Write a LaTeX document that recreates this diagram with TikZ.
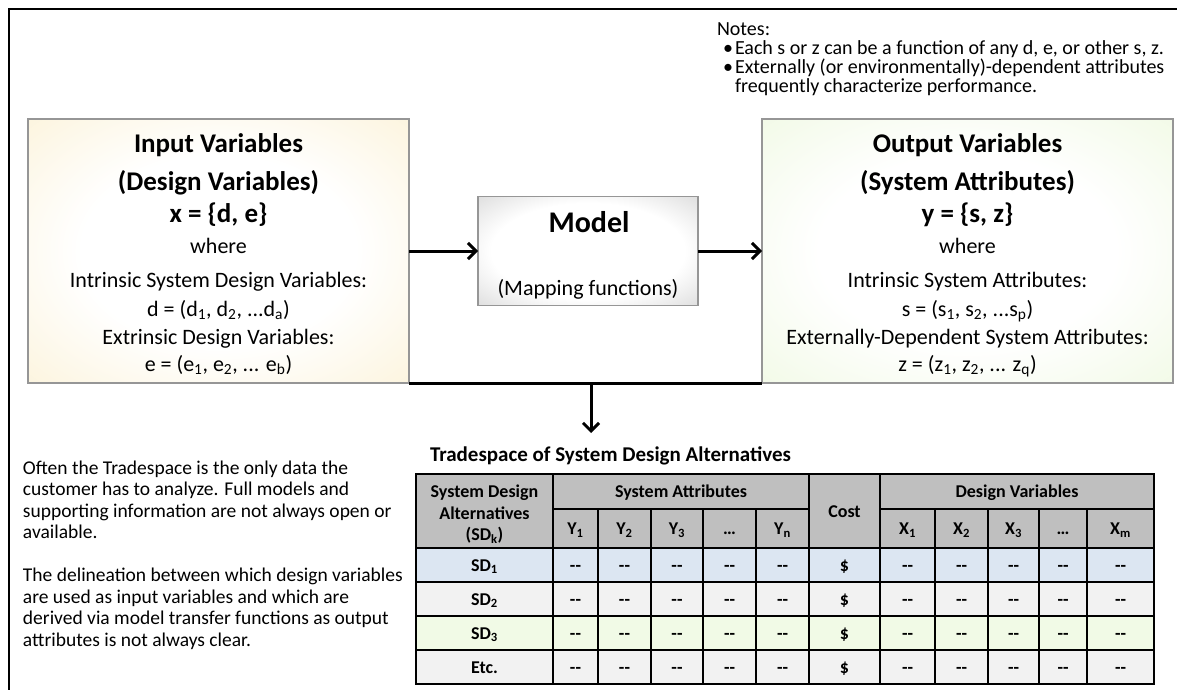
\documentclass[tikz,border=0pt]{standalone}
\usepackage{fontspec}
\setmainfont{Carlito}
\usetikzlibrary{arrows.meta}

\definecolor{inyellow}{RGB}{250,236,196}
\definecolor{outgreen}{RGB}{232,246,212}
\definecolor{modelgray}{RGB}{188,188,188}
\definecolor{boxline}{RGB}{150,150,150}
\definecolor{headgray}{RGB}{191,191,191}
\definecolor{rowblue}{RGB}{220,230,242}
\definecolor{rowgray}{RGB}{242,242,242}
\definecolor{rowgreen}{RGB}{241,250,230}

\pgfdeclareradialshading{inglow}{\pgfpoint{0bp}{0bp}}{color(0bp)=(white); color(18bp)=(white); color(50bp)=(inyellow); color(75bp)=(inyellow)}
\pgfdeclareradialshading{outglow}{\pgfpoint{0bp}{0bp}}{color(0bp)=(white); color(18bp)=(white); color(50bp)=(outgreen); color(75bp)=(outgreen)}
\pgfdeclareradialshading{modelglow}{\pgfpoint{0bp}{0bp}}{color(0bp)=(white); color(22bp)=(white); color(50bp)=(modelgray); color(75bp)=(modelgray)}

\begin{document}
\begin{tikzpicture}[x=1pt, y=-1pt, every node/.style={inner sep=0pt, outer sep=0pt},
    varbox/.style={draw=boxline, line width=1.2pt, minimum width=381pt, minimum height=264pt},
    boxtitle/.style={font=\fontsize{27}{32}\selectfont\bfseries, anchor=base},
    boxtext/.style={font=\fontsize{22}{26}\selectfont, anchor=base},
    note/.style={font=\fontsize{20}{21}\selectfont, anchor=base west},
    cell/.style={font=\fontsize{18}{21.5}\selectfont\bfseries, anchor=base},
    flow/.style={line width=3pt, -{Straight Barb[length=8pt, width=16pt]}},
    grid/.style={line width=1.4pt}]

    \useasboundingbox (0,0) rectangle (1177,690);
    \draw [line width=2.5pt] (9,690) -- (9,9) -- (1177,9);

    \node [note] (notes) at (717,36) {Notes:};
    \node [note] (bul1) at (723,55) {•};
    \node [note] (note1) at (735,55) {Each s or z can be a function of any d, e, or other s, z.};
    \node [note] (bul2) at (723,74) {•};
    \node [note] (note2) at (735,74) {Externally (or environmentally)-dependent attributes};
    \node [note] (note3) at (735,93) {frequently characterize performance.};

    \node [varbox, shading=inglow] (input) at (218.5,251) {};
    \node [boxtitle] (intitle) at (218.5,153) {Input Variables};
    \node [boxtitle] (insub) at (218.5,190) {(Design Variables)};
    \node [boxtitle] (inset) at (218.5,222) {x = \{d, e\}};
    \node [boxtext] (inwhere) at (218.5,253) {where};
    \node [boxtext] (inintr) at (218.5,287) {Intrinsic System Design Variables:};
    \node [boxtext] (ind) at (218.5,316) {d = (d\textsubscript{1}, d\textsubscript{2}, ...d\textsubscript{a})};
    \node [boxtext] (inextr) at (218.5,344) {Extrinsic Design Variables:};
    \node [boxtext] (ine) at (218.5,371) {e = (e\textsubscript{1}, e\textsubscript{2}, ... e\textsubscript{b})};

    \node [draw=boxline, line width=1.2pt, shading=modelglow, minimum width=220pt, minimum height=109pt] (model) at (588,251) {};
    \node [font=\fontsize{30}{36}\selectfont\bfseries, anchor=base] (modeltitle) at (589,232) {Model};
    \node [boxtext] (modelsub) at (588,295) {(Mapping functions)};

    \node [varbox, minimum width=411pt, shading=outglow] (output) at (967.5,251) {};
    \node [boxtitle] (outtitle) at (967.5,153) {Output Variables};
    \node [boxtitle] (outsub) at (967.5,190) {(System Attributes)};
    \node [boxtitle] (outset) at (967.5,222) {y = \{s, z\}};
    \node [boxtext] (outwhere) at (967.5,253) {where};
    \node [boxtext] (outintr) at (967.5,287) {Intrinsic System Attributes:};
    \node [boxtext] (outs) at (967.5,316) {s = (s\textsubscript{1}, s\textsubscript{2}, ...s\textsubscript{p})};
    \node [boxtext] (outextr) at (967.5,344) {Externally-Dependent System Attributes:};
    \node [boxtext] (outz) at (967.5,371) {z = (z\textsubscript{1}, z\textsubscript{2}, ... z\textsubscript{q})};

    \draw [flow] (input) -- (model);
    \draw [flow] (model) -- (output);
    \draw [line width=3pt] (input.south east) -- (output.south west);
    \coordinate (tap) at (591,383);
    \coordinate (drop) at (591,433);
    \draw [flow] (tap) -- (drop);

    \node [font=\fontsize{19.5}{21.5}\selectfont, align=left, anchor=north west] (remark) at (23,460.5)
      {Often the Tradespace is the only data the\\
       customer has to analyze. Full models and\\
       supporting information are not always open or\\
       available.\\
       ~\\
       The delineation between which design variables\\
       are used as input variables and which are\\
       derived via model transfer functions as output\\
       attributes is not always clear.};

    \node [font=\fontsize{21}{25}\selectfont\bfseries, anchor=base west] (tradespace) at (430,461) {Tradespace of System Design Alternatives};

    \fill [headgray] (416,474) rectangle (1154,548);
    \fill [rowblue] (416,548) rectangle (1154,582);
    \fill [rowgray] (416,582) rectangle (1154,616);
    \fill [rowgreen] (416,616) rectangle (1154,650);
    \fill [rowgray] (416,650) rectangle (1154,684);

    \draw [grid] (416,474) rectangle (1154,684);
    \draw [grid] (553,509) -- (809,509);
    \draw [grid] (880,509) -- (1154,509);
    \foreach \ly in {548,582,616,650}
      \draw [grid] (416,\ly) -- (1154,\ly);
    \foreach \lx in {553,809,880}
      \draw [grid] (\lx,474) -- (\lx,684);
    \foreach \lx in {598,651,703,756,935,988,1039,1087}
      \draw [grid] (\lx,509) -- (\lx,684);

    \node [cell, align=center, anchor=north] (sdhead) at (484.5,485) {System Design\\ Alternatives\\ (SD\textsubscript{k})};
    \node [cell] (sahead) at (681,497.5) {System Attributes};
    \node [cell] (costhead) at (844.5,517) {Cost};
    \node [cell] (dvhead) at (1017,497.5) {Design Variables};

    \foreach \cx/\lab [count=\i] in {575.5/Y\textsubscript{1}, 624.5/Y\textsubscript{2}, 677/Y\textsubscript{3}, 729.5/…, 782.5/Y\textsubscript{n}}
      \node [cell] (y\i) at (\cx,534.5) {\lab};
    \foreach \cx/\lab [count=\i] in {907.5/X\textsubscript{1}, 961.5/X\textsubscript{2}, 1013.5/X\textsubscript{3}, 1063/…, 1120.5/X\textsubscript{m}}
      \node [cell] (x\i) at (\cx,534.5) {\lab};

    \foreach \ry/\lab [count=\r] in {571/SD\textsubscript{1}, 605/SD\textsubscript{2}, 639/SD\textsubscript{3}, 673/Etc.} {
      \node [cell] (sd\r) at (484.5,\ry) {\lab};
      \node [cell] (cost\r) at (844.5,\ry) {\$};
      \foreach \cx [count=\i] in {575.5,624.5,677,729.5,782.5,907.5,961.5,1013.5,1063,1120.5}
        \node [cell] (v\r-\i) at (\cx,\ry) {-{}-};
    }

\end{tikzpicture}
\end{document}
